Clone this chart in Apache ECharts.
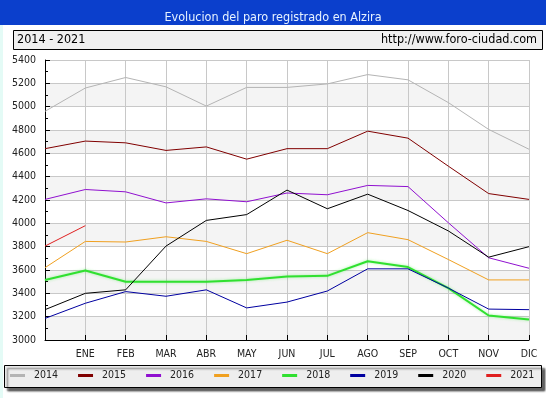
<!DOCTYPE html>
<html>
<head>
<meta charset="utf-8">
<script src="https://cdn.jsdelivr.net/npm/echarts@6/dist/echarts.min.js"></script>
<style>
html,body{margin:0;padding:0;background:#fff;}
#chart{width:546px;height:398px;}
</style>
</head>
<body>
<div id="chart"></div>
<script>

/* datos del paro registrado (Alzira) */

const meses=["","ENE","FEB","MAR","ABR","MAY","JUN","JUL","AGO","SEP","OCT","NOV","DIC"];

const anios=["2014","2015","2016","2017","2018","2019","2020","2021"];

const colores=["#b4b4b4","#800000","#9010d0","#f0a020","#30e030","#0000a0","#000000","#e02020"];

const paro2014=[4960,5160,5250,5170,5005,5165,5165,5195,5275,5230,5035,4805,4635];
const paro2015=[4640,4705,4690,4625,4655,4550,4640,4640,4790,4730,4490,4255,4205];
const paro2016=[4205,4290,4270,4175,4210,4185,4260,4245,4325,4315,4005,3705,3615];
const paro2017=[3620,3845,3840,3885,3845,3740,3855,3740,3920,3860,3690,3515,3515];
const paro2018=[3515,3595,3500,3500,3500,3515,3545,3550,3675,3625,3445,3210,3175];
const paro2019=[3185,3315,3415,3375,3430,3275,3325,3420,3610,3610,3445,3265,3260];
const paro2020=[3260,3400,3430,3805,4025,4075,4285,4125,4250,4110,3935,3710,3800];
const paro2021=[3805,3980,null,null,null,null,null,null,null,null,null,null,null];

const valores=[paro2014,paro2015,paro2016,paro2017,paro2018,paro2019,paro2020,paro2021];

const fuente="DejaVu Sans Condensed, DejaVu Sans, sans-serif";

const chart=echarts.init(document.getElementById("chart"));

const series=anios.map((anio,i)=>({

    name:anio,
    type:"line",
    data:valores[i],
    symbol:"none",
    connectNulls:false,
    animation:false,
    lineStyle:{
        color:colores[i],
        width:anio==="2018"?2:1,
        shadowColor:anio==="2018"?"rgba(60,230,60,0.45)":"transparent",
        shadowBlur:anio==="2018"?3:0
    },
    itemStyle:{
        color:colores[i]
    }

}));

const option={

    backgroundColor:"#ffffff",
    animation:false,

    title:{
        text:"Evolucion del paro registrado en Alzira",
        left:"center",
        top:6,
        textStyle:{
            color:"#e6f2ff",
            fontFamily:fuente,
            fontWeight:"normal",
            fontSize:12.5
        }
    },

    graphic:[
        {
            type:"rect",
            z:-10,
            shape:{x:0,y:0,width:546,height:25},
            style:{fill:"#0b3fcc"}
        },
        {
            type:"rect",
            z:-10,
            shape:{x:0,y:25,width:3,height:373},
            style:{fill:"#e4fbf6"}
        },
        {
            type:"rect",
            shape:{x:13.5,y:30.5,width:529,height:19},
            style:{fill:"#f0f0f0",stroke:"#000",lineWidth:1}
        },
        {
            type:"text",
            left:17,
            top:33,
            style:{text:"2014 - 2021",fill:"#000",font:"12.5px "+fuente}
        },
        {
            type:"text",
            right:9,
            top:33,
            style:{text:"http://www.foro-ciudad.com",fill:"#000",font:"12.5px "+fuente}
        },
        {
            type:"rect",
            z:-5,
            shape:{x:4.5,y:365.5,width:537,height:22},
            style:{
                fill:"#eeeeee",
                stroke:"#000",
                lineWidth:1,
                shadowColor:"rgba(0,0,0,0.6)",
                shadowOffsetX:3,
                shadowOffsetY:3,
                shadowBlur:2
            }
        }
    ],

    legend:{
        data:anios,
        left:10,
        top:370,
        width:536,
        itemWidth:15,
        itemHeight:3,
        itemGap:20,
        icon:"rect",
        padding:0,
        textStyle:{
            fontFamily:fuente,
            fontSize:10.5,
            color:"#222",
            padding:[0,0,0,4]
        }
    },

    grid:{
        left:45,
        right:17,
        top:60,
        bottom:58
    },

    xAxis:{

        type:"category",
        data:meses,
        boundaryGap:false,

        axisLine:{
            lineStyle:{color:"#000"}
        },

        axisTick:{
            inside:true,
            length:5,
            lineStyle:{color:"#000"}
        },

        axisLabel:{
            color:"#222",
            fontFamily:fuente,
            fontSize:10.5,
            margin:9
        },

        splitLine:{
            show:true,
            lineStyle:{color:"#c8c8c8"}
        }

    },

    yAxis:{

        type:"value",
        min:3000,
        max:5400,
        interval:200,

        axisLine:{
            show:true,
            lineStyle:{color:"#000"}
        },

        axisTick:{
            show:true,
            inside:true,
            length:5,
            lineStyle:{color:"#000"}
        },

        minorTick:{
            show:true,
            splitNumber:2,
            length:3,
            lineStyle:{color:"#000"}
        },

        axisLabel:{
            color:"#222",
            fontFamily:fuente,
            fontSize:10.5,
            margin:9,
            formatter:v=>String(v)
        },

        splitLine:{
            lineStyle:{color:"#c8c8c8"}
        },

        splitArea:{
            show:true,
            areaStyle:{
                color:["#f4f4f4","#ffffff"]
            }
        }

    },

    series:series

};

chart.setOption(option);

</script>
</body>
</html>
